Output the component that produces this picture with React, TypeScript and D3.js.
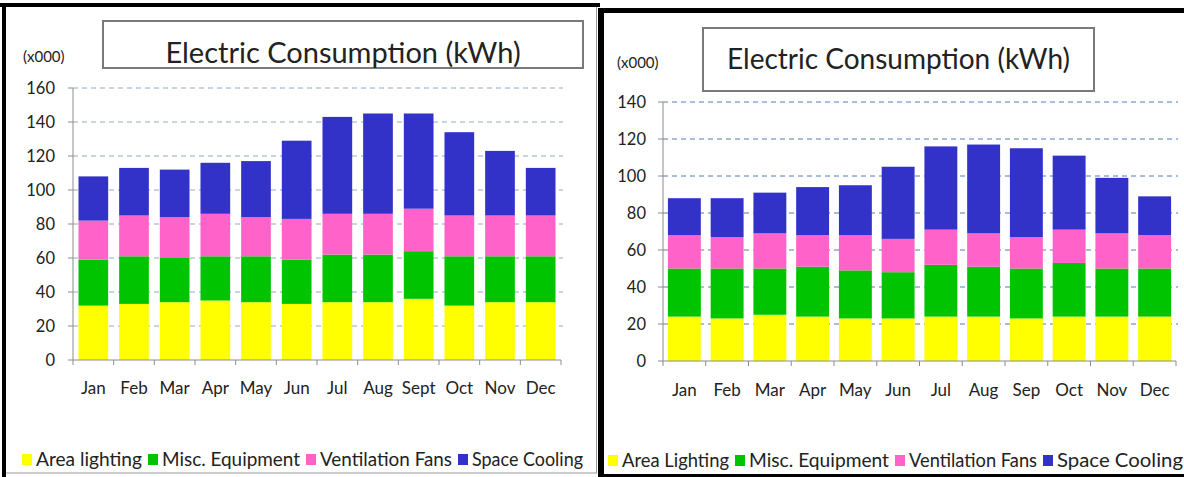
import * as d3 from "d3";
import React, { useEffect, useRef } from "react";

// left chart
const monthsA = ["Jan", "Feb", "Mar", "Apr", "May", "Jun", "Jul", "Aug", "Sept", "Oct", "Nov", "Dec"];
const namesA = ["Area lighting", "Misc. Equipment", "Ventilation Fans", "Space Cooling"];
const lightingA = [32, 33, 34, 35, 34, 33, 34, 34, 36, 32, 34, 34];
const equipA = [27, 28, 26, 26, 27, 26, 28, 28, 28, 29, 27, 27];
const fansA = [23, 24, 24, 25, 23, 24, 24, 24, 25, 24, 24, 24];
const coolingA = [26, 28, 28, 30, 33, 46, 57, 59, 56, 49, 38, 28];
const ticksA = [0, 20, 40, 60, 80, 100, 120, 140, 160];

// right chart
const monthsB = ["Jan", "Feb", "Mar", "Apr", "May", "Jun", "Jul", "Aug", "Sep", "Oct", "Nov", "Dec"];
const namesB = ["Area Lighting", "Misc. Equipment", "Ventilation Fans", "Space Cooling"];
const lightingB = [24, 23, 25, 24, 23, 23, 24, 24, 23, 24, 24, 24];
const equipB = [26, 27, 25, 27, 26, 25, 28, 27, 27, 29, 26, 26];
const fansB = [18, 17, 19, 17, 19, 18, 19, 18, 17, 18, 19, 18];
const coolingB = [20, 21, 22, 26, 27, 39, 45, 48, 48, 40, 30, 21];
const ticksB = [0, 20, 40, 60, 80, 100, 120, 140];

const colors = ["#ffff00", "#00c400", "#ff62c8", "#3232c8"];
const title = "Electric Consumption (kWh)";
const FONT = "Lato, 'Open Sans', sans-serif";

const panels = [
  {
    months: monthsA, names: namesA, series: [lightingA, equipA, fansA, coolingA], ticks: ticksA,
    x0: 73, x1: 561, y0: 360, y1: 88, pad: 0.27,
    box: [103, 21, 480, 47], titleY: 63, titleSize: 29, unitX: 23, unitY: 62, labelRight: 55,
    monthY: 394, legendX: [22, 148, 306, 458], legendEnd: 583, legendY: 460, grid: "#93a9c8",
  },
  {
    months: monthsB, names: namesB, series: [lightingB, equipB, fansB, coolingB], ticks: ticksB,
    x0: 663, x1: 1176, y0: 361, y1: 102, pad: 0.23,
    box: [703, 28, 391, 63], titleY: 69, titleSize: 28, unitX: 617, unitY: 68, labelRight: 646,
    monthY: 396, legendX: [608, 735, 895, 1043], legendEnd: 1183, legendY: 461, grid: "#4f7fb8",
  },
];

const App = () => {
  const ref = useRef<SVGSVGElement>(null);

  useEffect(() => {
    const svg = d3.select(ref.current);
    svg.selectAll("*").remove();

    svg.append("rect").attr("width", 1184).attr("height", 477).attr("fill", "#fff");

    // frames around the two pictures
    svg.append("rect").attr("x", 4.5).attr("y", 5.5).attr("width", 592).attr("height", 467.5)
      .attr("fill", "none").attr("stroke", "#9a9a9a");
    svg.append("rect").attr("x", 0).attr("y", 3).attr("width", 600).attr("height", 4).attr("fill", "#000");
    svg.append("rect").attr("x", 2).attr("y", 3).attr("width", 4).attr("height", 474).attr("fill", "#000");
    svg.append("rect").attr("x", 598).attr("y", 8).attr("width", 6).attr("height", 469).attr("fill", "#000");
    svg.append("rect").attr("x", 598).attr("y", 8).attr("width", 586).attr("height", 5).attr("fill", "#000");
    svg.append("rect").attr("x", 598).attr("y", 474).attr("width", 586).attr("height", 3).attr("fill", "#000");

    panels.forEach((p) => {
      const g = svg.append("g");
      const yMax = p.ticks[p.ticks.length - 1];
      const x = d3.scaleBand().domain(p.months).range([p.x0, p.x1]).paddingInner(p.pad).paddingOuter(p.pad / 2);
      const y = d3.scaleLinear().domain([0, yMax]).range([p.y0, p.y1]);

      // grid lines
      g.selectAll(".grid")
        .data(p.ticks.slice(1))
        .enter()
        .append("line")
        .attr("x1", p.x0).attr("x2", p.x1 + 2)
        .attr("y1", (d) => y(d)).attr("y2", (d) => y(d))
        .attr("stroke", p.grid).attr("stroke-dasharray", "5,4").attr("stroke-width", 1);

      // stacked bars
      const rows = p.months.map((m, i) => {
        const r: any = { month: m };
        p.series.forEach((s, k) => (r[k] = s[i]));
        return r;
      });
      const stack = d3.stack().keys(p.series.map((_, k) => String(k)))(rows);
      stack.forEach((layer, k) => {
        g.selectAll(".bar" + k)
          .data(layer)
          .enter()
          .append("rect")
          .attr("x", (d: any) => x(d.data.month)!)
          .attr("width", x.bandwidth())
          .attr("y", (d) => y(d[1]))
          .attr("height", (d) => y(d[0]) - y(d[1]))
          .attr("fill", colors[k]);
      });

      // axes
      const axisColor = "#8c8c8c";
      g.append("line").attr("x1", p.x0).attr("x2", p.x0).attr("y1", p.y1).attr("y2", p.y0)
        .attr("stroke", axisColor);
      g.append("line").attr("x1", p.x0).attr("x2", p.x1).attr("y1", p.y0).attr("y2", p.y0)
        .attr("stroke", axisColor);
      g.selectAll(".yt").data(p.ticks).enter().append("line")
        .attr("x1", p.x0 - 5).attr("x2", p.x0).attr("y1", (d) => y(d)).attr("y2", (d) => y(d))
        .attr("stroke", axisColor);
      const bw = (p.x1 - p.x0) / p.months.length;
      g.selectAll(".xt").data(d3.range(p.months.length + 1)).enter().append("line")
        .attr("x1", (i) => p.x0 + i * bw)
        .attr("x2", (i) => p.x0 + i * bw)
        .attr("y1", p.y0).attr("y2", p.y0 + 5)
        .attr("stroke", axisColor);

      g.selectAll(".yl").data(p.ticks).enter().append("text")
        .attr("x", p.labelRight).attr("y", (d) => y(d) + 6)
        .attr("text-anchor", "end").attr("font-family", FONT).attr("font-size", 16.5).attr("fill", "#222")
        .text((d) => d);

      g.selectAll(".ml").data(p.months).enter().append("text")
        .attr("x", (d) => x(d)! + x.bandwidth() / 2).attr("y", p.monthY)
        .attr("text-anchor", "middle").attr("font-family", FONT).attr("font-size", 17).attr("fill", "#222")
        .text((d) => d);

      // unit + title box
      g.append("text").attr("x", p.unitX).attr("y", p.unitY)
        .attr("font-family", FONT).attr("font-size", 15).attr("fill", "#222").text("(x000)");
      g.append("rect").attr("x", p.box[0]).attr("y", p.box[1]).attr("width", p.box[2]).attr("height", p.box[3])
        .attr("fill", "#fff").attr("stroke", "#7a7a7a").attr("stroke-width", 2);
      g.append("text").attr("x", p.box[0] + p.box[2] / 2).attr("y", p.titleY)
        .attr("text-anchor", "middle").attr("font-family", FONT).attr("font-size", p.titleSize)
        .attr("fill", "#222").text(title);

      // legend
      p.names.forEach((name, k) => {
        const lx = p.legendX[k];
        const end = k < p.names.length - 1 ? p.legendX[k + 1] - 6 : p.legendEnd;
        g.append("rect").attr("x", lx).attr("y", p.legendY - 6).attr("width", 10).attr("height", 11)
          .attr("fill", colors[k]);
        g.append("text").attr("x", lx + 14).attr("y", p.legendY + 6)
          .attr("font-family", FONT).attr("font-size", 18.5).attr("fill", "#222")
          .attr("textLength", end - lx - 14).attr("lengthAdjust", "spacingAndGlyphs")
          .text(name);
      });
    });
  }, []);

  return (
    <svg ref={ref} width={1184} height={477} style={{ position: "absolute", left: 0, top: 0 }} />
  );
};

export default App;
